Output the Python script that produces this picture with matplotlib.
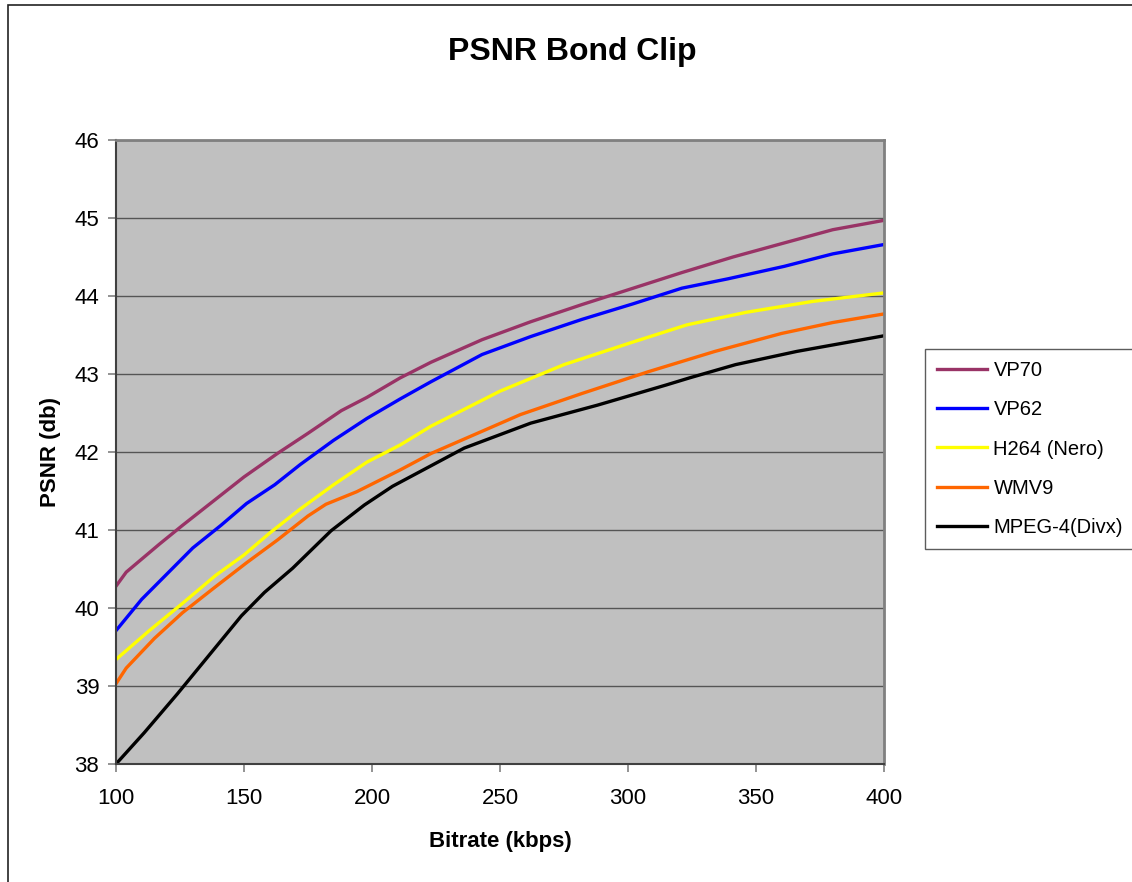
import matplotlib.pyplot as plt
from matplotlib.patches import Rectangle

plt.rcParams['font.family'] = ['Liberation Sans', 'DejaVu Sans']

# bitrate (kbps) / PSNR (db) per codec
vp70_x = [100, 104, 117, 126, 138, 150, 163, 175, 188, 198, 211, 223, 243, 262, 282, 302, 321, 341, 361, 380, 400]
vp70_y = [40.28, 40.46, 40.82, 41.06, 41.37, 41.68, 41.98, 42.24, 42.53, 42.70, 42.95, 43.15, 43.44, 43.67, 43.89,
          44.10, 44.30, 44.50, 44.68, 44.85, 44.97]

vp62_x = [100, 110, 120, 130, 141, 151, 162, 172, 185, 198, 211, 223, 243, 262, 282, 302, 321, 339, 361, 380, 400]
vp62_y = [39.71, 40.11, 40.44, 40.77, 41.06, 41.34, 41.58, 41.84, 42.15, 42.43, 42.68, 42.90, 43.25, 43.48, 43.70,
          43.90, 44.10, 44.22, 44.38, 44.54, 44.66]

h264_x = [100, 113, 126, 139, 150, 160, 172, 185, 198, 211, 223, 250, 275, 301, 323, 346, 372, 400]
h264_y = [39.34, 39.71, 40.06, 40.42, 40.68, 40.96, 41.27, 41.58, 41.87, 42.09, 42.33, 42.78, 43.12, 43.40, 43.63,
          43.79, 43.93, 44.04]

wmv9_x = [100, 104, 115, 126, 138, 151, 163, 175, 182, 194, 211, 223, 258, 282, 308, 334, 360, 380, 400]
wmv9_y = [39.03, 39.23, 39.61, 39.94, 40.25, 40.58, 40.87, 41.18, 41.33, 41.49, 41.77, 41.98, 42.48, 42.75, 43.03,
          43.29, 43.52, 43.66, 43.77]

divx_x = [100, 111, 124, 137, 149, 158, 169, 184, 197, 208, 236, 262, 288, 315, 324, 342, 366, 400]
divx_y = [38.00, 38.40, 38.90, 39.42, 39.90, 40.20, 40.51, 40.99, 41.32, 41.56, 42.05, 42.37, 42.60, 42.86, 42.95,
          43.12, 43.29, 43.49]

series = [
    ('VP70', vp70_x, vp70_y, '#993366'),
    ('VP62', vp62_x, vp62_y, '#0000FF'),
    ('H264 (Nero)', h264_x, h264_y, '#FFFF00'),
    ('WMV9', wmv9_x, wmv9_y, '#FF6600'),
    ('MPEG-4(Divx)', divx_x, divx_y, '#000000'),
]

W, H = 1132, 882
fig = plt.figure(figsize=(W / 100, H / 100), dpi=100)
fig.patch.set_facecolor('white')

# chart area border (top and left edges visible)
fig.add_artist(Rectangle((8 / W, -0.1), 1.2, 1 - 5 / H + 0.1, transform=fig.transFigure,
                         fill=False, edgecolor='#222222', linewidth=1.2))

ax = fig.add_axes([116 / W, 1 - 764 / H, (884 - 116) / W, (764 - 140) / H])
ax.set_facecolor('#C0C0C0')

for name, xs, ys, c in series:
    ax.plot(xs, ys, color=c, linewidth=2.4, label=name, solid_joinstyle='round')

ax.set_xlim(100, 400)
ax.set_ylim(38, 46)
ax.set_xticks(range(100, 401, 50))
ax.set_yticks(range(38, 47))
ax.yaxis.grid(True, color='#555555', linewidth=1.0)
ax.set_axisbelow(True)

for s in ['top', 'right']:
    ax.spines[s].set_color('#808080')
    ax.spines[s].set_linewidth(2)
for s in ['left', 'bottom']:
    ax.spines[s].set_color('#404040')
    ax.spines[s].set_linewidth(1.5)

ax.tick_params(axis='both', direction='out', length=6, width=1.2, color='#808080',
               labelsize=16, labelcolor='black')
ax.tick_params(axis='x', pad=11)
ax.tick_params(axis='y', pad=6)

ax.set_xlabel('Bitrate (kbps)', fontsize=16, fontweight='bold', labelpad=16)
ax.set_ylabel('PSNR (db)', fontsize=16, fontweight='bold', labelpad=10)

fig.text(572 / W, 1 - 52 / H, 'PSNR Bond Clip', ha='center', va='center',
         fontsize=23, fontweight='bold')

leg = ax.legend(loc='center left', bbox_to_anchor=(925 / W, 1 - 449 / H),
                bbox_transform=fig.transFigure, frameon=True, fancybox=False,
                fontsize=14.5, handlelength=2.5, handletextpad=0.3,
                labelspacing=1.0, borderpad=0.6, borderaxespad=0)
leg.get_frame().set_edgecolor('#333333')
leg.get_frame().set_linewidth(1.0)

fig.savefig('out.png', dpi=100)
